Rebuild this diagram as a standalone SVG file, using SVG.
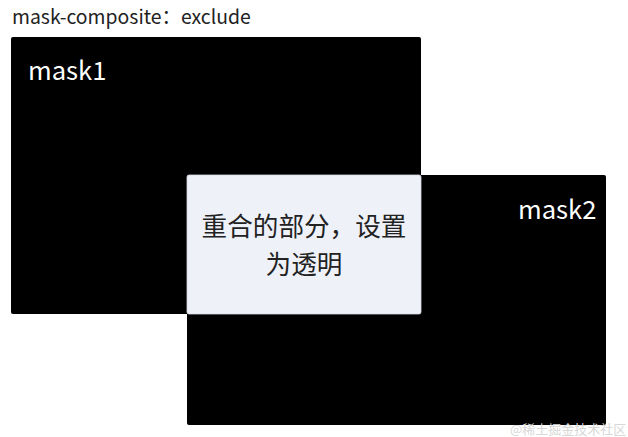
<svg xmlns="http://www.w3.org/2000/svg" width="628" height="437" viewBox="0 0 628 437">
<style>
text{font-family:"Noto Sans CJK SC","Noto Sans",sans-serif}
.mask{fill:#000}
.lbl{fill:#fff;font-size:25.6px}
.ctr{fill:#222;font-size:25.6px;text-anchor:middle}
</style>
<rect width="628" height="437" fill="#fff"/>
<text x="12" y="24" font-size="19.4" fill="#222">mask-composite：exclude</text>
<g id="mask1">
<rect class="mask" x="11" y="37" width="410" height="277" rx="2"/>
<text class="lbl" x="28" y="80">mask1</text>
</g>
<g id="mask2">
<rect class="mask" x="187" y="175" width="419" height="250" rx="2"/>
<text class="lbl" x="518" y="219">mask2</text>
</g>
<g id="overlap">
<rect x="187" y="175" width="234" height="139" rx="2" fill="#eef1f8" stroke="#d8dbe2" stroke-width="0.8"/>
<text class="ctr" x="304" y="236">重合的部分，设置</text>
<text class="ctr" x="304" y="274">为透明</text>
</g>
<g id="connectors"/>
<text x="510" y="434" font-size="13" fill="#d8d8d8">@稀土掘金技术社区</text>
</svg>
